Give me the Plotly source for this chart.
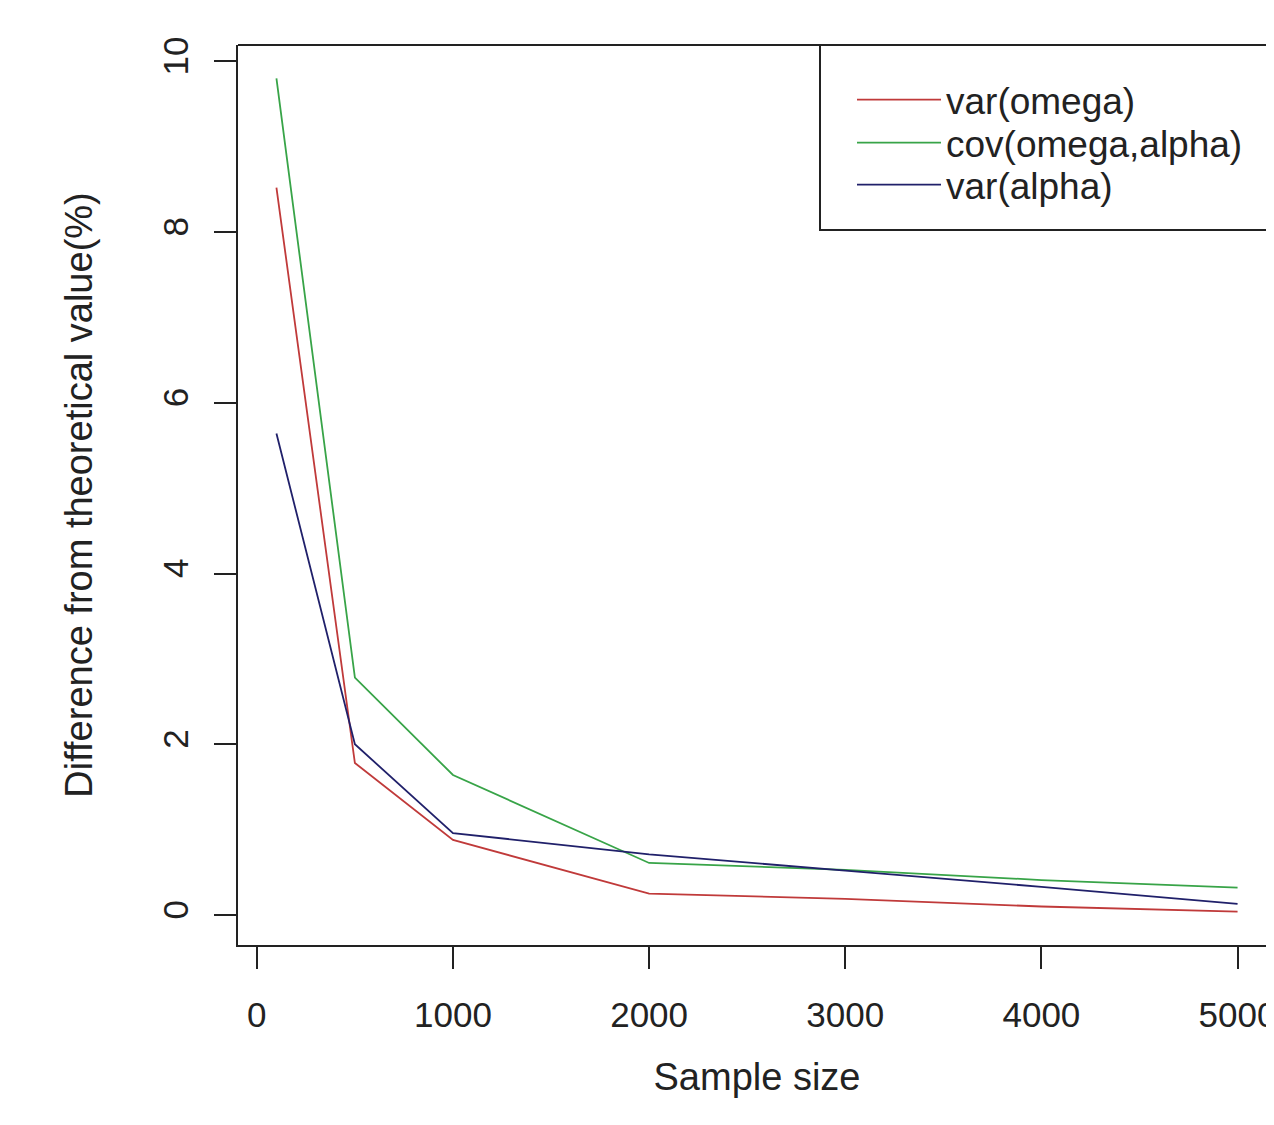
import plotly.graph_objects as go

sample_size = [100, 500, 1000, 2000, 3000, 4000, 5000]
var_omega = [8.52, 1.78, 0.88, 0.25, 0.19, 0.10, 0.04]
cov_omega_alpha = [9.80, 2.78, 1.64, 0.61, 0.53, 0.41, 0.32]
var_alpha = [5.64, 2.00, 0.96, 0.71, 0.52, 0.33, 0.13]

series_names = ["var(omega)", "cov(omega,alpha)", "var(alpha)"]
series_values = [var_omega, cov_omega_alpha, var_alpha]
series_colors = ["#c03a3a", "#38a448", "#20206a"]

x_ticks = [0, 1000, 2000, 3000, 4000, 5000]
y_ticks = [0, 2, 4, 6, 8, 10]

FONT = "Liberation Sans, Arial, Helvetica, sans-serif"
INK = "#222222"

W, H = 1274, 1125
ml, mr, mt, mb = 230, 6, 37, 188
pw = W - ml - mr
ph = H - mt - mb


def px_x(x):  # figure pixel -> paper x
    return (x - ml) / pw


def px_y(y):  # figure pixel -> paper y
    return (mt + ph - y) / ph


legend_ids = ["legend", "legend2", "legend3"]
legend_rows = [92, 135, 177]  # figure-pixel centres of the legend rows

fig = go.Figure()
for name, vals, col, lid in zip(series_names, series_values, series_colors, legend_ids):
    fig.add_trace(go.Scatter(x=sample_size, y=vals, mode="lines", name=name,
                             legend=lid, line=dict(color=col, width=1.8)))

legend_common = dict(
    x=px_x(844), xanchor="left", yanchor="middle",
    borderwidth=0, bgcolor="rgba(0,0,0,0)",
    font=dict(size=37, family=FONT, color=INK),
    itemwidth=84,
)
legends = {lid: dict(legend_common, y=px_y(row)) for lid, row in zip(legend_ids, legend_rows)}

fig.update_layout(
    width=W, height=H,
    margin=dict(l=ml, r=mr, t=mt, b=mb, autoexpand=False),
    plot_bgcolor="white", paper_bgcolor="white",
    font=dict(family=FONT, size=35, color=INK),
    showlegend=True,
    xaxis=dict(
        range=[-96, 5196], tickvals=x_ticks, ticktext=[str(v) for v in x_ticks],
        showgrid=False, zeroline=False, showline=True, linecolor=INK,
        linewidth=2, mirror=False, ticks="outside", ticklen=22, tickwidth=1.5,
        tickcolor=INK, ticklabelstandoff=16, ticklabeloverflow="allow",
        title=dict(text="Sample size", standoff=30, font=dict(size=38)),
    ),
    yaxis=dict(
        range=[-0.351, 10.19], tickvals=y_ticks, ticktext=[str(v) for v in y_ticks],
        showgrid=False, zeroline=False, showline=True, linecolor=INK,
        linewidth=2, ticks="outside", ticklen=22, tickwidth=1.5,
        tickcolor=INK, tickangle=-90, ticklabelstandoff=12,
        title=dict(text="Difference from theoretical value(%)", standoff=52,
                   font=dict(size=38)),
    ),
    **legends,
)
# top border of the plot box (right side is clipped in the original)
fig.add_shape(type="line", xref="paper", yref="paper", x0=0, x1=1.02, y0=1, y1=1,
              line=dict(color=INK, width=2))
# legend frame, running off the right edge like the original
fig.add_shape(type="rect", xref="paper", yref="paper",
              x0=px_x(812), x1=1.02, y0=px_y(222), y1=1,
              line=dict(color=INK, width=2), fillcolor="rgba(0,0,0,0)", layer="above")

fig.write_html("out.html")
